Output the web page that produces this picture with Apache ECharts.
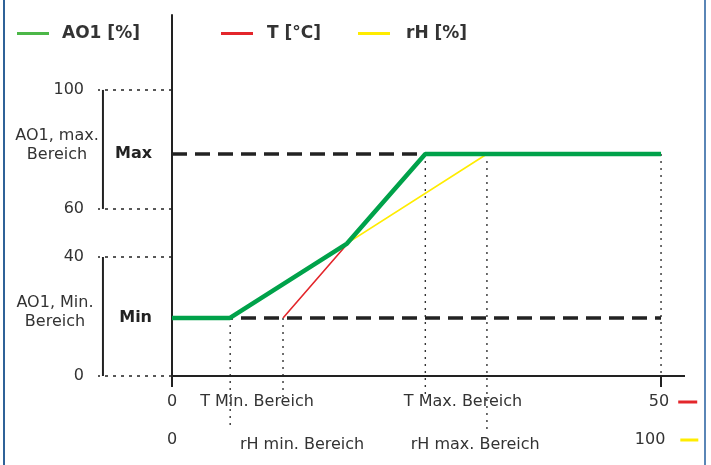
<!DOCTYPE html>
<html>
<head>
<meta charset="utf-8">
<script src="https://cdn.jsdelivr.net/npm/echarts@6/dist/echarts.min.js"></script>
<style>
  html, body { margin: 0; padding: 0; background: #fff; }
  #wrap { position: relative; width: 711px; height: 465px; }
  #chart { width: 711px; height: 465px; }
  .bl { position: absolute; top: 0; width: 2px; height: 465px; }
</style>
</head>
<body>
<div id="wrap">
  <div id="chart"></div>
  <div class="bl" style="left:3px;background:#2f6298;"></div>
  <div class="bl" style="left:704px;background:#5a86b6;"></div>
</div>
<script>
// ---- data (schematic values) ----
var seriesNames = ['AO1 [%]', 'T [°C]', 'rH [%]'];
var minLevel = 20.3;   // AO1 "Min"
var maxLevel = 77.6;   // AO1 "Max"

// T [°C] on the T axis (0..50)
var tCurve = [[11.35, 20.3], [25.9, 77.6], [50, 77.6]];
// rH [%] on the rH axis (0..100)
var rhCurve = [[11.9, 20.3], [64.4, 77.6], [100, 77.6]];
// AO1 output on the T axis
var ao1Curve = [[0, 20.3], [5.93, 20.3], [17.89, 46.3], [25.9, 77.6], [50, 77.6]];

// y axis tick positions and their labels
var yTickPos = [0, 41.6, 58.4, 100];
var yTickLabels = ['0', '40', '60', '100'];

// T axis label positions and labels
var tLabelPos = [0, 8.69, 29.75, 50];
var tLabelText = ['0', 'T Min. Bereich', 'T Max. Bereich', '50'];
var tTickPos = [0, 50];

// rH axis label positions and labels
var rhLabelPos = [0, 26.6, 62.0, 100];
var rhLabelText = ['0', 'rH min. Bereich', 'rH max. Bereich', '100'];

// axis extents (schematic)
var tAxisMin = -7.566, tAxisMax = 52.45;
var rhAxisMin = -15.13, rhAxisMax = 104.9;
var yAxisMax = 126.2;

// reference verticals
var tMin = 11.35, tMax = 25.9, tEnd = 50;
var rhMin = 11.9, rhMax = 64.4;
var tDropShort = -7.7, rhDropLong = -18.9;
var bracketX = -7.06;
var bracketMax = [58.4, 100];
var bracketMin = [0, 41.6];

var FONT = 'DejaVu Sans';
var TXT = '#333';
var INK = '#222';

function lookup(pos, texts, v) {
  for (var i = 0; i < pos.length; i++) if (Math.abs(pos[i] - v) < 1e-6) return texts[i];
  return '';
}

var dotted = { color: '#333', width: 1.4, type: [2, 5] };

function vline(axisIdx, x, y0, y1) {
  return {
    type: 'line', xAxisIndex: axisIdx, yAxisIndex: 0, clip: false, silent: true,
    symbol: 'none', z: 1, data: [[x, y0], [x, y1]], lineStyle: dotted,
    tooltip: { show: false }
  };
}
function solid(data, w) {
  return { type: 'line', xAxisIndex: 0, yAxisIndex: 0, clip: false, silent: true, symbol: 'none', z: 2,
    data: data, lineStyle: { color: INK, width: w } };
}

var chart = echarts.init(document.getElementById('chart'), null, { renderer: 'canvas' });

var legendText = { fontFamily: FONT, fontSize: 17, fontWeight: 'bold', color: TXT };
var option = {
  animation: false,
  textStyle: { fontFamily: FONT },
  grid: { left: 98, right: 26, top: 15, bottom: 89, containLabel: false, outerBoundsMode: 'none' },
  legend: [
    { data: [seriesNames[0]], left: 17, top: 25, padding: 0, icon: 'rect', itemWidth: 32, itemHeight: 3,
      selectedMode: false, textStyle: Object.assign({ padding: [0, 0, 0, 8] }, legendText) },
    { data: [seriesNames[1]], left: 221, top: 25, padding: 0, icon: 'rect', itemWidth: 32, itemHeight: 3,
      selectedMode: false, textStyle: Object.assign({ padding: [0, 0, 0, 9] }, legendText) },
    { data: [seriesNames[2]], left: 358, top: 25, padding: 0, icon: 'rect', itemWidth: 32, itemHeight: 3,
      selectedMode: false, textStyle: Object.assign({ padding: [0, 0, 0, 11] }, legendText) }
  ],
  xAxis: [
    {
      type: 'value', min: tAxisMin, max: tAxisMax, position: 'bottom',
      axisLine: { show: false, onZero: false },
      axisTick: { show: true, customValues: tTickPos, length: 11, lineStyle: { color: INK, width: 2 } },
      splitLine: { show: false },
      axisLabel: {
        customValues: tLabelPos, margin: 18, fontSize: 16, color: TXT, fontFamily: FONT,
        formatter: function (v) {
          var t = lookup(tLabelPos, tLabelText, v);
          if (t === '50') return '{p| }{t|50}{g| }{r| }';
          return t;
        },
        rich: {
          p: { width: 24 }, t: { fontSize: 16, color: TXT, fontFamily: FONT },
          g: { width: 9 }, r: { width: 19, height: 3, backgroundColor: '#e3262b' }
        }
      }
    },
    {
      type: 'value', min: rhAxisMin, max: rhAxisMax, position: 'bottom', offset: 39,
      axisLine: { show: false, onZero: false },
      axisTick: { show: false },
      splitLine: { show: false },
      axisLabel: {
        customValues: rhLabelPos, margin: 17, fontSize: 16, color: TXT, fontFamily: FONT,
        formatter: function (v) {
          var t = lookup(rhLabelPos, rhLabelText, v);
          if (t === '100') return '{p| }{t|100}{g| }{y| }';
          if (t === '0') return t;
          return '{lo|' + t + '}';
        },
        rich: {
          p: { width: 11 }, t: { fontSize: 16, color: TXT, fontFamily: FONT },
          g: { width: 15 }, y: { width: 18, height: 3, backgroundColor: '#ffec00' },
          lo: { fontSize: 16, color: TXT, fontFamily: FONT, padding: [5, 0, 0, 0] }
        }
      }
    }
  ],
  yAxis: {
    type: 'value', min: 0, max: yAxisMax,
    axisLine: { show: true, onZero: true, onZeroAxisIndex: 0, lineStyle: { color: INK, width: 2 } },
    axisTick: { show: true, customValues: yTickPos, length: 74, lineStyle: { color: INK, width: 1.6, type: [3, 5] } },
    splitLine: { show: false },
    axisLabel: {
      customValues: yTickPos, margin: 14, fontSize: 16, color: TXT, fontFamily: FONT,
      formatter: function (v) { return lookup(yTickPos, yTickLabels, v); }
    }
  },
  graphic: [
    { type: 'text', x: 57, y: 145, silent: true,
      style: { text: 'AO1, max.\nBereich', x: 0, y: 0, align: 'center', verticalAlign: 'middle',
        fontSize: 16, lineHeight: 19, fontFamily: FONT, fill: TXT } },
    { type: 'text', x: 55, y: 312.5, silent: true,
      style: { text: 'AO1, Min.\nBereich', x: 0, y: 0, align: 'center', verticalAlign: 'middle',
        fontSize: 16, lineHeight: 19, fontFamily: FONT, fill: TXT } }
  ],
  series: [
    // Max / Min dashed levels
    {
      type: 'line', xAxisIndex: 0, yAxisIndex: 0, data: [], silent: true, z: 1,
      markLine: {
        silent: true, symbol: ['none', 'none'], animation: false,
        lineStyle: { color: INK, width: 3.5, type: [15, 8] },
        label: { show: true, position: 'start', distance: 20, fontFamily: FONT, fontSize: 16,
          fontWeight: 'bold', color: INK },
        emphasis: { disabled: true },
        data: [
          [{ coord: [0, maxLevel], label: { formatter: 'Max' } }, { coord: [tEnd, maxLevel] }],
          [{ coord: [0, minLevel], label: { formatter: 'Min' } }, { coord: [tEnd, minLevel] }]
        ]
      }
    },
    vline(0, tMin, minLevel, tDropShort),
    vline(0, tMax, maxLevel, tDropShort),
    vline(0, tEnd, maxLevel, 0),
    vline(1, rhMin, minLevel, rhDropLong),
    vline(1, rhMax, maxLevel, rhDropLong),
    // x axis baseline (solid from 0) and bracket lines left of the axis
    solid([[0, 0], [tAxisMax, 0]], 2),
    solid([[bracketX, bracketMax[0]], [bracketX, bracketMax[1]]], 2),
    solid([[bracketX, bracketMin[0]], [bracketX, bracketMin[1]]], 2),
    // curves
    { name: seriesNames[2], type: 'line', xAxisIndex: 1, yAxisIndex: 0, symbol: 'none', z: 3,
      color: '#ffec00', itemStyle: { color: '#ffec00' }, lineStyle: { color: '#ffec00', width: 1.6 }, data: rhCurve },
    { name: seriesNames[1], type: 'line', xAxisIndex: 0, yAxisIndex: 0, symbol: 'none', z: 4,
      color: '#e3262b', itemStyle: { color: '#e3262b' }, lineStyle: { color: '#e3262b', width: 1.6 }, data: tCurve },
    { name: seriesNames[0], type: 'line', xAxisIndex: 0, yAxisIndex: 0, symbol: 'none', z: 5,
      color: '#00a24a', itemStyle: { color: '#4cb748' }, lineStyle: { color: '#00a24a', width: 4.5 }, data: ao1Curve }
  ]
};
chart.setOption(option);
</script>
</body>
</html>
